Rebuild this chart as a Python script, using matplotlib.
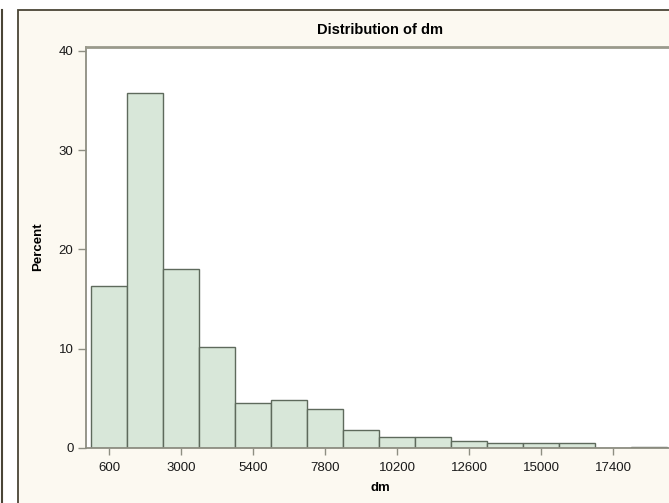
import matplotlib
matplotlib.use("Agg")
import matplotlib.pyplot as plt
from matplotlib.patches import Rectangle
from matplotlib.lines import Line2D

plt.rcParams['font.family'] = ['Liberation Sans', 'DejaVu Sans']

# Data (bin midpoints and percent)
midpoints = [600, 1800, 3000, 4200, 5400, 6600, 7800, 9000, 10200, 11400,
             12600, 13800, 15000, 16200, 17400, 18600]
percents = [16.3, 35.8, 18.0, 10.2, 4.55, 4.85, 3.9, 1.8, 1.05, 1.05,
            0.72, 0.45, 0.45, 0.45, 0.0, 0.1]
bin_width = 1200
xticks = [600, 3000, 5400, 7800, 10200, 12600, 15000, 17400]
yticks = [0, 10, 20, 30, 40]

W, H = 669, 503
fig = plt.figure(figsize=(W / 100, H / 100), dpi=100)
fig.patch.set_facecolor('white')

cream = '#FCF9F1'
# outer frame
fig.patches.append(Rectangle((18 / W, -0.05), 1.2, (H - 9.5) / H + 0.05,
                             transform=fig.transFigure, facecolor=cream,
                             edgecolor='#4A4536', linewidth=1.3, zorder=-5))
# left dark line
fig.lines.append(Line2D([1.5 / W, 1.5 / W], [0, (H - 10) / H],
                        transform=fig.transFigure, color='#4A4536',
                        linewidth=1.5, zorder=-5))

ax_left = 86 / W
ax_bottom = (H - 447.7) / H
ax_top = (H - 47.3) / H
ax = fig.add_axes([ax_left, ax_bottom, 1.02 - ax_left, ax_top - ax_bottom])
ax.set_zorder(2)
ax.set_facecolor('white')

ax.bar(midpoints, percents, width=bin_width, color='#D8E7D9',
       edgecolor='#5E6A5C', linewidth=1.0, zorder=2)

ax.set_xlim(-177, 19257 + 0.02 * 669 * 33.33)
ax.set_ylim(0, 40.37)
ax.set_xticks(xticks)
ax.set_xticklabels([str(v) for v in xticks])
ax.set_yticks(yticks)

spine_c = '#8E8E82'
for s in ['left', 'bottom']:
    ax.spines[s].set_color(spine_c)
    ax.spines[s].set_linewidth(1.3)
ax.spines['top'].set_color('#9A9A8C')
ax.spines['top'].set_linewidth(2.0)
ax.spines['right'].set_visible(False)

ax.tick_params(axis='x', length=5, width=1, color=spine_c, pad=5.5,
               labelsize=9.5, labelcolor='#1A1A1A')
ax.tick_params(axis='y', length=6, width=1, color=spine_c, pad=3,
               labelsize=9.5, labelcolor='#1A1A1A')

fig.text(380 / W, 1 - 30 / H, 'Distribution of dm', ha='center', va='center',
         fontsize=10.5, fontweight='bold', color='black')
fig.text(38 / W, 1 - 247 / H, 'Percent', ha='center', va='center',
         rotation=90, fontsize=9.5, fontweight='bold', color='black')
fig.text(380 / W, 1 - 488 / H, 'dm', ha='center', va='center',
         fontsize=9.5, fontweight='bold', color='black')

fig.savefig('out.png', dpi=100, facecolor=fig.get_facecolor())
